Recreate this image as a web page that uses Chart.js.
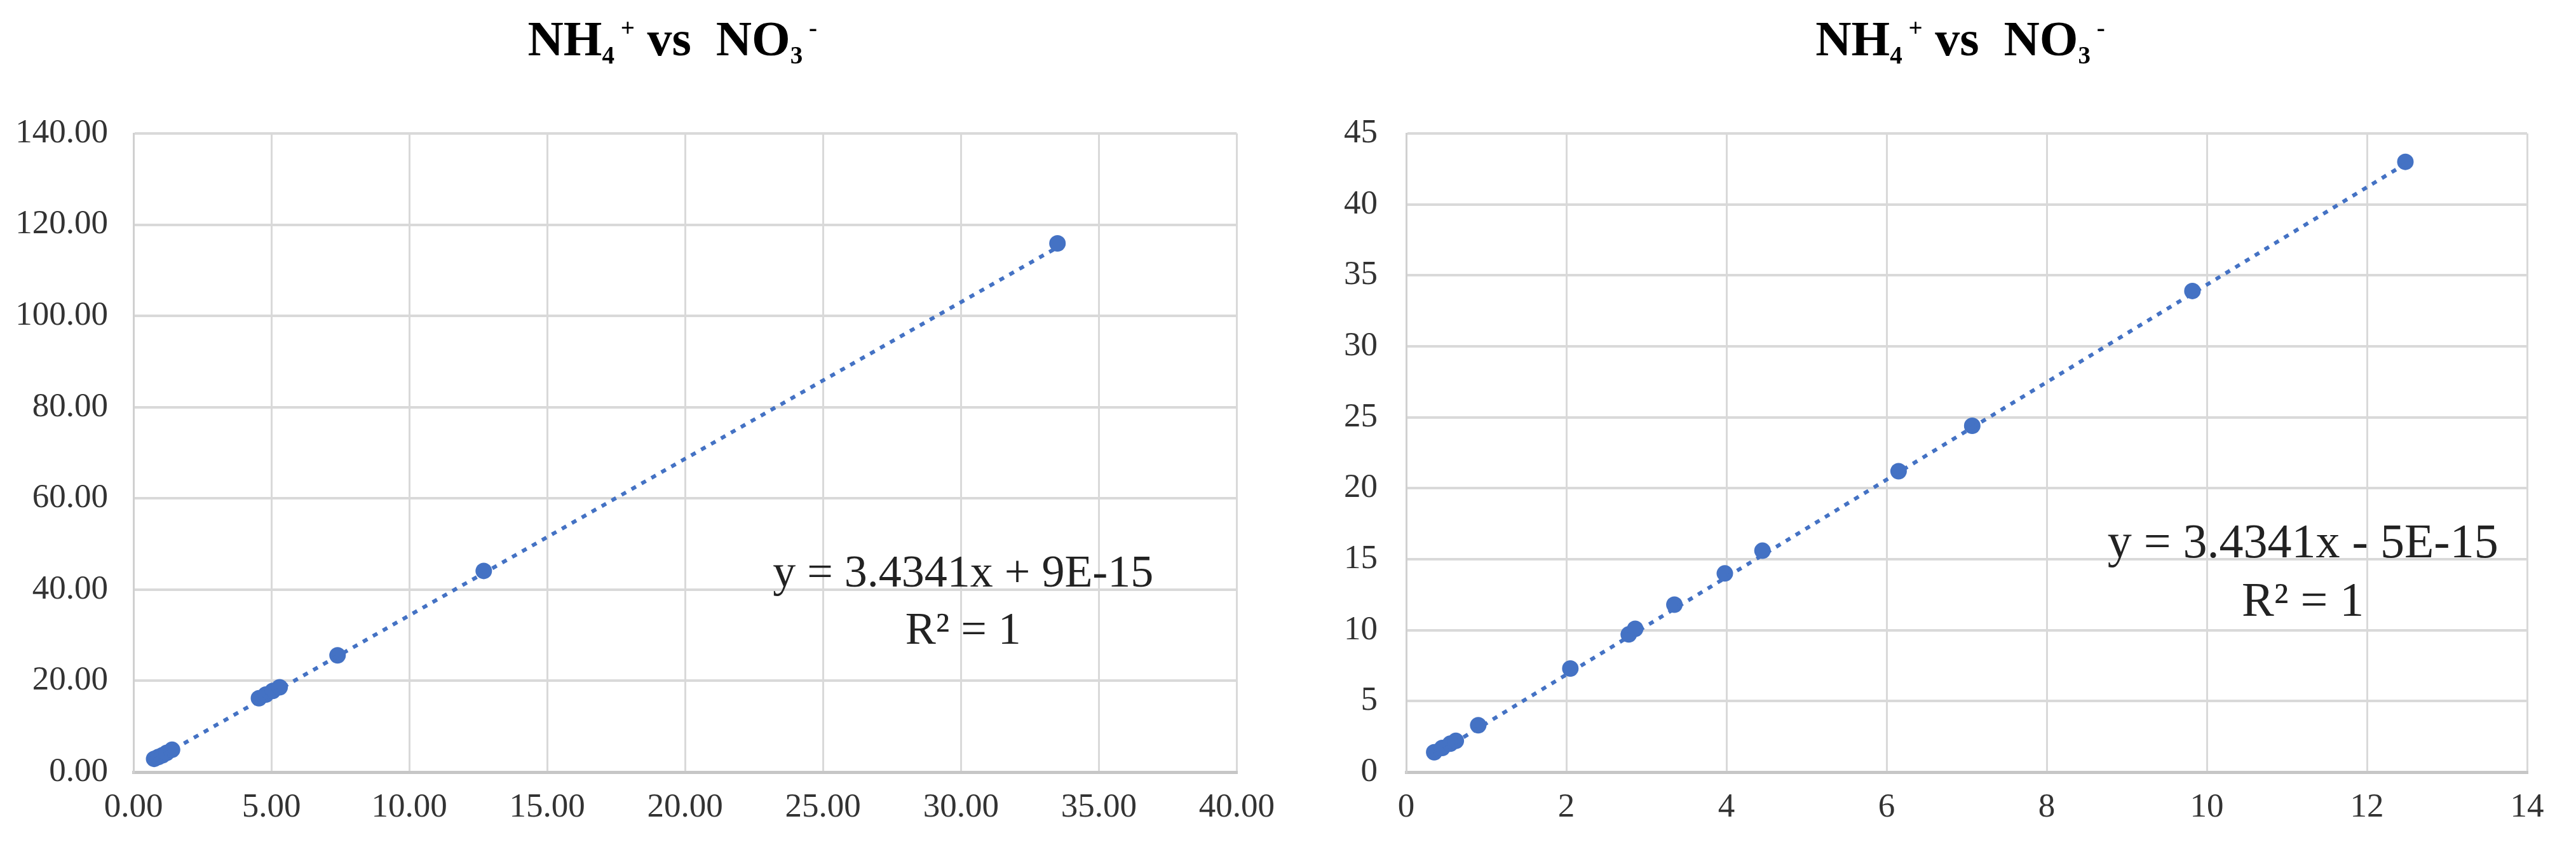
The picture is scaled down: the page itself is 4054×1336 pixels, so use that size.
<!DOCTYPE html>
<html>
<head>
<meta charset="utf-8">
<script src="https://cdn.jsdelivr.net/npm/chart.js@4.4.0/dist/chart.umd.min.js"></script>
<style>
html,body{margin:0;padding:0;background:#ffffff;}
#wrap{position:relative;width:4054px;height:1336px;background:#fff;}
.c{position:absolute;top:0;height:1336px;}
</style>
</head>
<body>
<div id="wrap">
  <div class="c" style="left:0;width:2030px"><canvas id="leftChart"></canvas></div>
  <div class="c" style="left:2030px;width:2024px"><canvas id="rightChart"></canvas></div>
</div>
<script>
// ---------- DATA ----------
const leftNO3 = [0.75, 0.9, 1.05, 1.2, 1.4, 4.55, 4.8, 5.05, 5.3, 7.4, 12.7, 33.5];
const leftNH4 = [2.9, 3.3, 3.7, 4.2, 4.9, 16.2, 17.0, 17.8, 18.6, 25.6, 44.1, 115.9];

const rightNO3 = [0.35, 0.45, 0.55, 0.62, 0.9, 2.05, 2.78, 2.86, 3.35, 3.98, 4.45, 6.15, 7.07, 9.82, 12.48];
const rightNH4 = [1.4, 1.7, 2.0, 2.2, 3.3, 7.3, 9.7, 10.1, 11.8, 14.0, 15.6, 21.2, 24.4, 33.9, 43.0];

const leftXTicks = [0, 5, 10, 15, 20, 25, 30, 35, 40];
const leftYTicks = [0, 20, 40, 60, 80, 100, 120, 140];
const rightXTicks = [0, 2, 4, 6, 8, 10, 12, 14];
const rightYTicks = [0, 5, 10, 15, 20, 25, 30, 35, 40, 45];

const trendSlopes = [3.4341, 3.4341];
const trendIntercepts = [9e-15, -5e-15];
const leftEquation = ["y = 3.4341x + 9E-15", "R² = 1"];
const rightEquation = ["y = 3.4341x - 5E-15", "R² = 1"];

const titleRuns = [["NH", "n"], ["4", "sub"], [" +", "sup"], [" vs  ", "n"], ["NO", "n"], ["3", "sub"], [" -", "sup"]];

// ---------- DRAWING ----------
const BLUE = '#4472C4';

const textPlugin = {
  id: 'texts',
  afterDraw(chart, args, o) {
    const ctx = chart.ctx, ca = chart.chartArea;
    ctx.save();
    const fnt = s => `bold ${s}px "Liberation Serif", "Times New Roman", serif`;
    let total = 0;
    const parts = o.title.map(([t, k]) => {
      const s = k === 'n' ? o.titleSize : o.titleSize * 0.5;
      ctx.font = fnt(s);
      const w = ctx.measureText(t).width;
      total += w;
      return {t, k, s, w};
    });
    let x = (ca.left + ca.right) / 2 + o.titleDx - total / 2;
    ctx.fillStyle = '#000';
    ctx.textAlign = 'left';
    ctx.textBaseline = 'alphabetic';
    for (const p of parts) {
      ctx.font = fnt(p.s);
      let y = o.titleBaseline;
      if (p.k === 'sub') y += 13;
      if (p.k === 'sup') y -= 30;
      ctx.fillText(p.t, x, y);
      x += p.w;
    }
    ctx.font = `${o.eqSize}px "Liberation Serif", "Times New Roman", serif`;
    ctx.textAlign = 'center';
    ctx.fillStyle = '#222';
    const cx = ca.left + o.eqX * (ca.right - ca.left);
    o.eq.forEach((line, i) => {
      ctx.fillText(line, cx, ca.top + o.eqY[i] * (ca.bottom - ca.top));
    });
    ctx.restore();
  }
};

function buildChart(id, xs, ys, xTicks, yTicks, slope, intercept, fmt, layout, eq, eqPos) {
  const pts = xs.map((x, i) => ({x: x, y: ys[i]}));
  const xmin = Math.min(...xs), xmax = Math.max(...xs);
  const trend = [{x: xmin, y: slope * xmin + intercept}, {x: xmax, y: slope * xmax + intercept}];
  const tickFont = {family: '"Liberation Serif", "Times New Roman", serif', size: 53};
  return new Chart(document.getElementById(id), {
    type: 'scatter',
    data: {
      datasets: [
        {data: pts, backgroundColor: BLUE, borderColor: BLUE, borderWidth: 0, pointRadius: 13, pointHoverRadius: 13, showLine: false, order: 2},
        {data: trend, showLine: true, borderColor: BLUE, borderWidth: 6, borderDash: [8, 10], pointRadius: 0, fill: false, order: 1}
      ]
    },
    options: {
      responsive: true,
      maintainAspectRatio: false,
      animation: false,
      layout: {padding: {left: 0, right: layout.right, top: 210, bottom: 0}},
      plugins: {
        legend: {display: false},
        tooltip: {enabled: false},
        title: {display: false},
        texts: {title: titleRuns, titleSize: 78, titleBaseline: 87, titleDx: layout.titleDx, eq: eq, eqSize: layout.eqSize, eqX: eqPos.x, eqY: eqPos.y}
      },
      scales: {
        x: {
          type: 'linear',
          min: xTicks[0], max: xTicks[xTicks.length - 1],
          afterBuildTicks: s => { s.ticks = xTicks.map(v => ({value: v})); },
          afterFit: s => { s.height = 121; },
          ticks: {font: tickFont, color: '#333', padding: 24, maxRotation: 0, callback: v => fmt(v)},
          grid: {color: '#d9d9d9', lineWidth: 3, drawTicks: false},
          border: {color: '#c6c6c6', width: 5}
        },
        y: {
          type: 'linear',
          min: yTicks[0], max: yTicks[yTicks.length - 1],
          afterBuildTicks: s => { s.ticks = yTicks.map(v => ({value: v})); },
          afterFit: s => { s.width = layout.yWidth; },
          ticks: {font: tickFont, color: '#333', padding: layout.yPad, callback: v => fmt(v)},
          grid: {color: '#d9d9d9', lineWidth: 4, drawTicks: false},
          border: {color: '#d0d0d0', width: 3}
        }
      }
    },
    plugins: [textPlugin]
  });
}

buildChart('leftChart', leftNO3, leftNH4, leftXTicks, leftYTicks, trendSlopes[0], trendIntercepts[0],
  v => Number(v).toFixed(2), {right: 72, yWidth: 210, yPad: 40, titleDx: -20, eqSize: 72}, leftEquation,
  {x: 0.752, y: [0.709, 0.799]});

buildChart('rightChart', rightNO3, rightNH4, rightXTicks, rightYTicks, trendSlopes[1], trendIntercepts[1],
  v => String(v), {right: 77, yWidth: 183, yPad: 45, titleDx: -10, eqSize: 76}, rightEquation,
  {x: 0.80, y: [0.664, 0.755]});
</script>
</body>
</html>
